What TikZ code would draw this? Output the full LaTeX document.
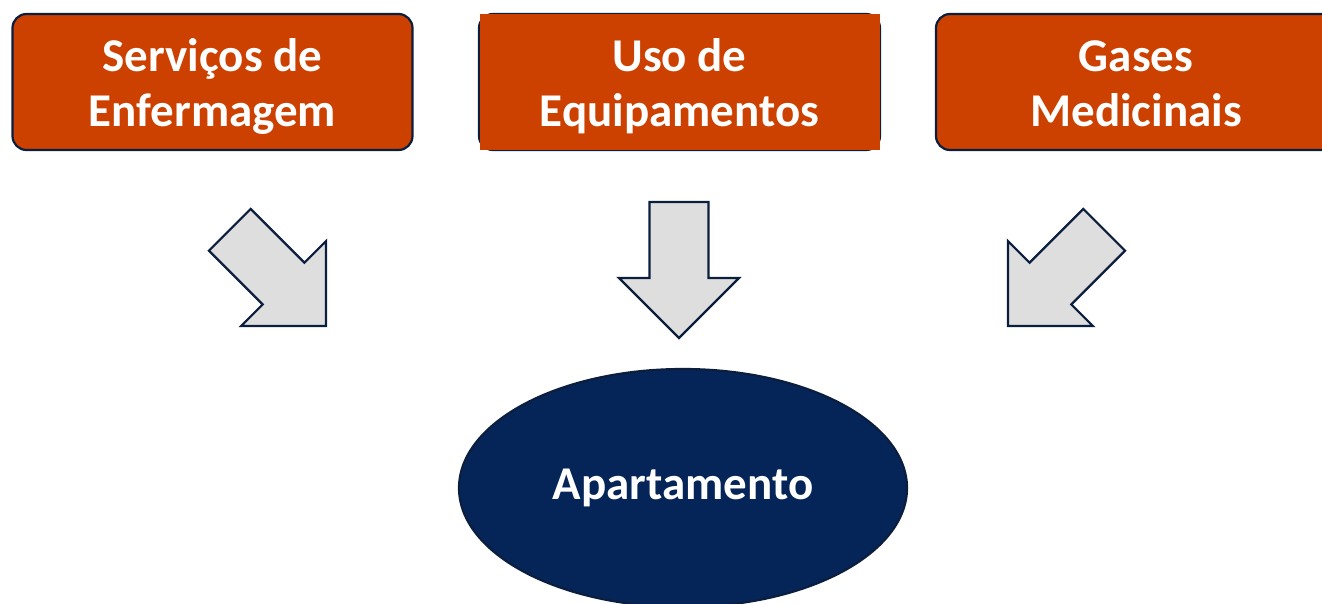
\documentclass[tikz,border=0pt]{standalone}
\usepackage{fontspec}
\setmainfont{Carlito}
\usetikzlibrary{shapes.geometric}
\definecolor{boxorange}{RGB}{204,64,0}
\definecolor{navyfill}{RGB}{5,37,88}
\definecolor{navyline}{RGB}{12,30,62}
\definecolor{arrowgray}{RGB}{222,222,222}
\tikzset{
  box/.style={draw=navyline, line width=2.2pt, fill=boxorange, rounded corners=14pt,
    minimum width=400pt, minimum height=136pt, text=white, align=center,
    text height=98pt, text depth=10pt,
    font=\fontsize{47}{55}\selectfont\bfseries},
  room/.style={ellipse, draw=navyline, line width=2.2pt, fill=navyfill,
    minimum width=448pt, minimum height=238pt, text=white,
    font=\fontsize{47}{55}\selectfont\bfseries},
  pics/blockarrow/.style={code={
    \draw[navyline, line width=2.2pt, fill=arrowgray, line join=miter]
      (0,0) -- (-60,-60) -- (-29.5,-60) -- (-29.5,-136)
      -- (29.5,-136) -- (29.5,-60) -- (60,-60) -- cycle;
  }}
}
\begin{document}
\begin{tikzpicture}[x=1pt, y=-1pt]
  \useasboundingbox (0,0) rectangle (1322,603);
  \node[box] (enf) at (212.5,82) {Serviços de\\Enfermagem};
  \draw[navyline, line width=2.2pt, rounded corners=14pt] (479,14) rectangle (880,150);
  \node[box, draw=none, sharp corners] (equip) at (679.5,82) {Uso de\\Equipamentos};
  \node[box] (gases) at (1136,82) {Gases\\Medicinais};
  \node[room] (apto) at (683,488) {Apartamento};
  \pic[rotate=45] at (326,326) {blockarrow};
  \pic at (679,338) {blockarrow};
  \pic[rotate=-45] at (1008,326) {blockarrow};
\end{tikzpicture}
\end{document}
